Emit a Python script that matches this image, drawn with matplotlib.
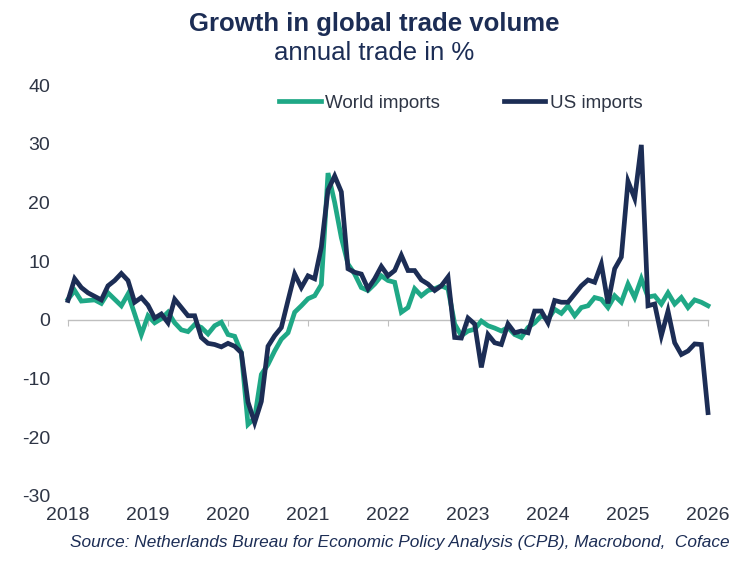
import matplotlib
matplotlib.use("Agg")
import matplotlib.pyplot as plt
from matplotlib.lines import Line2D
import numpy as np

# ---- data (monthly, Jan 2018 .. Jan 2026) ----
start_year = 2018
us_imports = [
    3.3, 7.0, 5.5, 4.6, 4.0, 3.4, 5.8, 6.7, 7.9, 6.7, 3.0, 3.8,            # 2018
    2.5, 0.3, 1.0, -0.5, 3.5, 2.1, 0.7, 0.7, -3.0, -4.0, -4.2, -4.6,      # 2019
    -4.0, -4.5, -5.6, -14.0, -17.5, -13.9, -4.5, -2.7, -1.3, 3.3, 7.8, 5.5,  # 2020
    7.5, 7.0, 12.4, 22.1, 24.5, 21.8, 8.7, 8.1, 7.8, 5.3, 7.0, 9.1,       # 2021
    7.5, 8.4, 11.0, 8.4, 8.4, 6.8, 6.1, 5.0, 5.8, 7.3, -3.0, -3.1,        # 2022
    0.3, -0.7, -8.1, -2.5, -3.9, -4.2, -0.7, -2.2, -1.9, -2.2, 1.5, 1.5,  # 2023
    -0.5, 3.3, 3.0, 3.0, 4.4, 5.8, 6.8, 6.4, 9.5, 2.8, 8.7, 10.7,         # 2024
    23.6, 20.7, 29.8, 2.4, 2.7, -2.7, 1.5, -3.9, -5.9, -5.3, -4.1, -4.2,  # 2025
    -15.8,                                                               # 2026
]
world_imports = [
    3.5, 5.0, 3.2, 3.3, 3.4, 2.8, 4.6, 3.5, 2.4, 4.4, 1.0, -2.5,          # 2018
    0.7, -0.5, 0.2, 1.3, -0.5, -1.7, -2.0, -0.8, -1.3, -2.4, -1.0, -0.4,  # 2019
    -2.5, -2.8, -5.6, -17.8, -16.7, -9.3, -7.6, -5.3, -3.3, -2.2, 1.3, 2.4,  # 2020
    3.6, 4.1, 6.0, 25.0, 20.0, 14.0, 9.5, 7.8, 5.5, 5.0, 6.1, 7.5,        # 2021
    6.7, 6.4, 1.3, 2.1, 5.3, 4.1, 5.0, 5.3, 5.8, 5.3, -0.7, -2.7,         # 2022
    -1.9, -1.6, -0.2, -1.0, -1.4, -1.9, -1.3, -2.5, -3.0, -1.3, -0.5, 0.7,  # 2023
    0.1, 1.8, 1.1, 2.4, 0.7, 2.1, 2.4, 3.8, 3.5, 2.1, 4.1, 3.0,           # 2024
    6.1, 3.8, 7.0, 3.9, 4.1, 2.7, 4.6, 2.7, 3.8, 2.1, 3.4, 3.0,           # 2025
    2.4,                                                                 # 2026
]
x_years = [2018, 2019, 2020, 2021, 2022, 2023, 2024, 2025, 2026]
y_ticks = [-30, -20, -10, 0, 10, 20, 30, 40]

title = "Growth in global trade volume"
subtitle = "annual trade in %"
source = "Source: Netherlands Bureau for Economic Policy Analysis (CPB), Macrobond,  Coface"

NAVY = "#1c2d55"
TEAL = "#1fa886"
TEXT = "#2e3545"

plt.rcParams['font.family'] = ['Liberation Sans', 'DejaVu Sans']

t = start_year + np.arange(len(us_imports)) / 12.0

fig = plt.figure(figsize=(7.49, 5.65), dpi=100)
ax = fig.add_axes([68/749, 1-496/565, 640/749, 411/565])

ax.plot(t, world_imports, color=TEAL, lw=3.4, solid_joinstyle='miter', clip_on=False, zorder=3)
ax.plot(t, us_imports, color=NAVY, lw=3.4, solid_joinstyle='miter', clip_on=False, zorder=4)

ax.set_xlim(2018, 2026)
ax.set_ylim(-30, 40)
ax.set_yticks(y_ticks)
ax.set_yticklabels([str(v) for v in y_ticks], fontsize=14, color=TEXT)
ax.tick_params(axis='y', length=0, pad=13)

for s in ['top', 'right', 'left']:
    ax.spines[s].set_visible(False)
ax.spines['bottom'].set_position(('data', 0))
ax.spines['bottom'].set_color('#bfbfbf')
ax.spines['bottom'].set_linewidth(1.0)
ax.set_xticks(x_years)
ax.tick_params(axis='x', direction='out', length=4, color='#bfbfbf', labelbottom=False)

sec = ax.secondary_xaxis('bottom')
sec.set_xticks(x_years)
sec.set_xticklabels([str(y) for y in x_years], fontsize=14, color=TEXT)
sec.tick_params(length=0, pad=8)
sec.spines['bottom'].set_visible(False)

fig.text(0.5, 1-24/565, title, ha='center', va='center', fontsize=18.5,
         fontweight='bold', color=NAVY)
fig.text(0.5, 1-53/565, subtitle, ha='center', va='center', fontsize=18.5, color=NAVY)

handles = [Line2D([], [], color=TEAL, lw=3.4), Line2D([], [], color=NAVY, lw=3.4)]
leg = fig.legend(handles, ['World imports', 'US imports'], ncol=2, frameon=False,
                 loc='center', bbox_to_anchor=(461/749, 1-103/565), fontsize=13.5,
                 handlelength=2.2, handletextpad=0.25, columnspacing=3.4,
                 labelcolor=TEXT, borderpad=0, borderaxespad=0)

fig.text(730/749, 1-543/565, source, ha='right', va='center', fontsize=12.4,
         style='italic', color=NAVY)

fig.savefig("out.png", dpi=100, facecolor='white')
